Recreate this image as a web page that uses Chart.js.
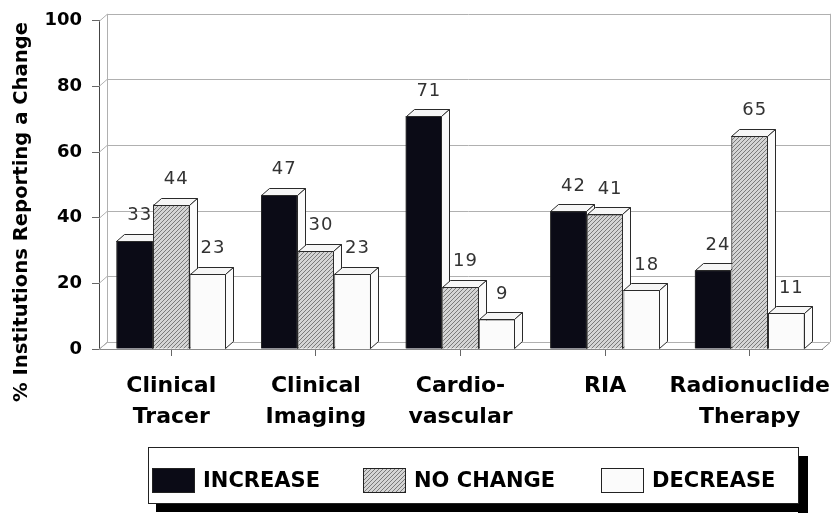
<!DOCTYPE html>
<html>
<head>
<meta charset="utf-8">
<script src="https://cdn.jsdelivr.net/npm/chart.js@4.4.1/dist/chart.umd.min.js"></script>
<style>
  html, body { margin: 0; padding: 0; background: #ffffff; }
  canvas { display: block; }
</style>
</head>
<body>
<canvas id="chart" width="832" height="516"></canvas>
<script>
// ---- data ----
const categories = [['Clinical', 'Tracer'], ['Clinical', 'Imaging'], ['Cardio-', 'vascular'], 'RIA', ['Radionuclide', 'Therapy']];
const seriesNames = ['INCREASE', 'NO CHANGE', 'DECREASE'];
const increaseValues = [33, 47, 71, 42, 24];
const noChangeValues = [44, 30, 19, 41, 65];
const decreaseValues = [23, 23, 9, 18, 11];
const yTickValues = [0, 20, 40, 60, 80, 100];
const yAxisTitle = '% Institutions Reporting a Change';

// ---- styling ----
const DEPTH_X = 8;   // 3D depth offset to the right
const DEPTH_Y = 7;   // 3D depth offset upward
const EDGE = '#2a2a2a';
const GRID = '#b0b0b0';

function makeHatch() {
  const tile = document.createElement('canvas');
  tile.width = 4; tile.height = 4;
  const g = tile.getContext('2d');
  g.fillStyle = '#d4d4d4';
  g.fillRect(0, 0, 4, 4);
  g.strokeStyle = '#7a7a7a';
  g.lineWidth = 1;
  g.beginPath();
  g.moveTo(0, 4); g.lineTo(4, 0);
  g.moveTo(-1, 1); g.lineTo(1, -1);
  g.moveTo(3, 5); g.lineTo(5, 3);
  g.stroke();
  return g.createPattern(tile, 'repeat');
}
const hatch = makeHatch();
const fills = ['#0b0b16', hatch, '#fbfbfb'];

// back wall, floor and gridlines drawn in perspective
const wallPlugin = {
  id: 'wall3d',
  beforeDatasetsDraw(chart) {
    const { ctx, chartArea: a, scales: { y } } = chart;
    ctx.save();
    ctx.lineWidth = 1;
    // floor
    ctx.fillStyle = '#ffffff';
    ctx.strokeStyle = '#8a8a8a';
    ctx.beginPath();
    ctx.moveTo(a.left, a.bottom + 0.5);
    ctx.lineTo(a.left + DEPTH_X, a.bottom - DEPTH_Y + 0.5);
    ctx.lineTo(a.right + DEPTH_X, a.bottom - DEPTH_Y + 0.5);
    ctx.lineTo(a.right, a.bottom + 0.5);
    ctx.closePath();
    ctx.fill();
    ctx.stroke();
    // gridlines on back wall and left wall
    ctx.strokeStyle = GRID;
    yTickValues.forEach(v => {
      const py = Math.round(y.getPixelForValue(v)) + 0.5;
      ctx.beginPath();
      ctx.moveTo(a.left, py);
      ctx.lineTo(a.left + DEPTH_X, py - DEPTH_Y);
      ctx.lineTo(a.right + DEPTH_X, py - DEPTH_Y);
      ctx.stroke();
    });
    // back wall verticals
    ctx.beginPath();
    ctx.moveTo(a.left + DEPTH_X + 0.5, a.top - DEPTH_Y);
    ctx.lineTo(a.left + DEPTH_X + 0.5, a.bottom - DEPTH_Y);
    ctx.moveTo(a.right + DEPTH_X + 0.5, a.top - DEPTH_Y);
    ctx.lineTo(a.right + DEPTH_X + 0.5, a.bottom - DEPTH_Y);
    ctx.stroke();
    ctx.restore();
  }
};

// series are layered left to right: front face, top and side faces, then the value label,
// so each bar covers the depth faces and label of its left neighbour
const barsPlugin = {
  id: 'bars3d',
  afterDatasetsDraw(chart) {
    const { ctx } = chart;
    chart.data.datasets.forEach((ds, di) => {
      const meta = chart.getDatasetMeta(di);
      ctx.save();
      meta.data.forEach((el, i) => {
        el.draw(ctx, chart.chartArea);
        const p = el.getProps(['x', 'y', 'base', 'width'], true);
        const l = Math.round(p.x - p.width / 2) + 0.5;
        const r = Math.round(p.x + p.width / 2) - 0.5;
        const t = Math.round(p.y) + 0.5;
        const b = Math.round(p.base) - 0.5;
        ctx.lineWidth = 1;
        ctx.strokeStyle = EDGE;
        // top face
        ctx.fillStyle = '#f6f6f6';
        ctx.beginPath();
        ctx.moveTo(l, t);
        ctx.lineTo(l + DEPTH_X, t - DEPTH_Y);
        ctx.lineTo(r + DEPTH_X, t - DEPTH_Y);
        ctx.lineTo(r, t);
        ctx.closePath();
        ctx.fill();
        ctx.stroke();
        // side face
        ctx.fillStyle = '#fbfbfb';
        ctx.beginPath();
        ctx.moveTo(r, t);
        ctx.lineTo(r + DEPTH_X, t - DEPTH_Y);
        ctx.lineTo(r + DEPTH_X, b - DEPTH_Y);
        ctx.lineTo(r, b);
        ctx.closePath();
        ctx.fill();
        ctx.stroke();
        // value label
        ctx.fillStyle = '#333333';
        ctx.font = '18px "DejaVu Sans"';
        ctx.letterSpacing = '1px';
        ctx.textAlign = 'center';
        ctx.textBaseline = 'middle';
        ctx.fillText(String(ds.data[i]), p.x + DEPTH_X / 2 + 1, p.y - 25);
        ctx.letterSpacing = '0px';
      });
      ctx.restore();
    });
  }
};

// rotated axis title and boxed legend with a drop shadow
const decorPlugin = {
  id: 'decor',
  afterDraw(chart) {
    const { ctx } = chart;
    ctx.save();
    // y axis title
    ctx.translate(27, 212);
    ctx.rotate(-Math.PI / 2);
    ctx.fillStyle = '#000000';
    ctx.font = 'bold 19.6px "DejaVu Sans"';
    ctx.textAlign = 'center';
    ctx.textBaseline = 'alphabetic';
    ctx.fillText(yAxisTitle, 0, 0);
    ctx.restore();

    // legend
    ctx.save();
    const bx = 148, by = 447, bw = 650, bh = 56;
    ctx.fillStyle = '#000000';
    ctx.fillRect(bx + bw, by + 9, 10, bh + 1);
    ctx.fillRect(bx + 8, by + bh, bw + 2, 9);
    ctx.fillStyle = '#ffffff';
    ctx.fillRect(bx, by, bw, bh);
    ctx.strokeStyle = '#222222';
    ctx.lineWidth = 1;
    ctx.strokeRect(bx + 0.5, by + 0.5, bw, bh);
    const swatchX = [152, 363, 601];
    const textX = [203, 414, 652];
    ctx.font = 'bold 21px "DejaVu Sans"';
    ctx.textBaseline = 'middle';
    ctx.textAlign = 'left';
    chart.data.datasets.forEach((ds, i) => {
      ctx.fillStyle = ds.backgroundColor;
      ctx.fillRect(swatchX[i], 468, 43, 25);
      ctx.strokeStyle = '#222222';
      ctx.strokeRect(swatchX[i] + 0.5, 468.5, 42, 24);
      ctx.fillStyle = '#000000';
      ctx.fillText(ds.label, textX[i], 482);
    });
    ctx.restore();
  }
};

const seriesValues = [increaseValues, noChangeValues, decreaseValues];

new Chart(document.getElementById('chart'), {
  type: 'bar',
  data: {
    labels: categories,
    datasets: seriesNames.map((name, i) => ({
      label: name,
      data: seriesValues[i],
      backgroundColor: fills[i],
      borderColor: EDGE,
      borderWidth: 1,
      categoryPercentage: 0.76,
      barPercentage: 1.0
    }))
  },
  options: {
    responsive: false,
    devicePixelRatio: 1,
    animation: false,
    layout: { padding: { top: 19, right: 10, left: 0, bottom: 0 } },
    plugins: {
      legend: { display: false },
      tooltip: { enabled: false }
    },
    scales: {
      x: {
        grid: { display: true, offset: false, drawOnChartArea: false, drawTicks: true, tickLength: 7, color: '#666666' },
        border: { display: true, color: '#444444' },
        ticks: {
          color: '#000000',
          font: { family: 'DejaVu Sans', weight: 'bold', size: 22, lineHeight: 1.4 },
          padding: 15,
          autoSkip: false,
          maxRotation: 0,
          minRotation: 0
        },
        afterFit(scale) {
          scale.height = 167;
          // the long last label may overhang the plot edge
          scale.paddingLeft = 0;
          scale.paddingRight = 0;
        }
      },
      y: {
        min: 0,
        max: 100,
        afterBuildTicks(scale) { scale.ticks = yTickValues.map(v => ({ value: v })); },
        grid: { display: true, drawOnChartArea: false, drawTicks: true, tickLength: 7, color: '#666666' },
        border: { display: true, color: '#444444' },
        ticks: {
          color: '#000000',
          font: { family: 'DejaVu Sans', weight: 'bold', size: 18 },
          padding: 10
        },
        afterFit(scale) { scale.width = 99; }
      }
    }
  },
  plugins: [wallPlugin, barsPlugin, decorPlugin]
});
</script>
</body>
</html>
